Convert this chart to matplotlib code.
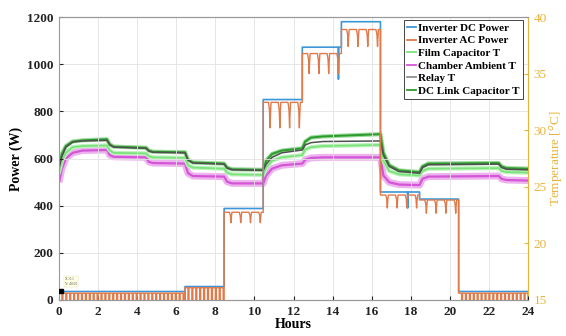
import numpy as np
import matplotlib
matplotlib.use("Agg")
import matplotlib.pyplot as plt
from matplotlib.lines import Line2D

# ---------------- data ----------------
# power step segments (hours)
seg_start = [0, 6.45, 8.45, 10.45, 12.45, 14.45, 16.45, 18.45, 20.45]
seg_end = [6.45, 8.45, 10.45, 12.45, 14.45, 16.45, 18.45, 20.45, 24]
dc_level = [36, 57, 388, 850, 1072, 1180, 458, 428, 36]
ac_level = [29, 52, 372, 838, 1045, 1147, 445, 424, 29]
ac_dip = [0, 0, 328, 730, 960, 1075, 390, 368, 0]
dip_offsets = [0.35, 0.85, 1.35, 1.85]   # dip times within high-power segments
low_dip_period = 0.2                      # switching ripple at low power
dc_spike_t = [14.3, 17.85]
dc_spike_v = [936, 390]

# temperature knots (hours) and values (deg C)
t_knots = [0, 0.15, 0.35, 0.7, 1.2, 2.45, 2.6, 2.8, 4.45, 4.6, 4.8, 6.45, 6.6, 6.85,
           8.45, 8.6, 8.85, 10.45, 10.6, 10.9, 11.4, 12.45, 12.6, 12.9, 13.5, 16.45,
           16.6, 16.9, 17.4, 18.45, 18.6, 18.9, 22.5, 22.65, 22.9, 24]
dclink_T = [26.9, 27.9, 28.6, 29.0, 29.1, 29.2, 28.75, 28.55, 28.45, 28.2, 28.1, 28.05,
            27.4, 27.15, 27.05, 26.7, 26.55, 26.5, 27.3, 27.9, 28.2, 28.4, 29.0, 29.35,
            29.45, 29.65, 28.0, 26.9, 26.45, 26.3, 26.8, 27.05, 27.1, 26.8, 26.65, 26.6]
relay_T = [26.6, 27.7, 28.5, 28.95, 29.05, 29.1, 28.7, 28.5, 28.4, 28.15, 28.05, 28.0,
           27.35, 27.1, 27.0, 26.65, 26.5, 26.45, 27.0, 27.6, 28.0, 28.25, 28.7, 28.9,
           29.0, 29.05, 27.8, 26.8, 26.35, 26.2, 26.7, 26.95, 27.0, 26.7, 26.55, 26.5]
film_T = [26.3, 27.3, 28.0, 28.5, 28.6, 28.65, 28.2, 28.0, 27.95, 27.7, 27.6, 27.55,
          26.9, 26.7, 26.6, 26.25, 26.1, 26.05, 26.7, 27.3, 27.6, 27.8, 28.3, 28.5,
          28.6, 28.7, 27.3, 26.4, 26.1, 26.0, 26.4, 26.6, 26.65, 26.4, 26.3, 26.25]
ambient_T = [25.4, 26.6, 27.5, 28.0, 28.2, 28.25, 27.8, 27.65, 27.6, 27.2, 27.1, 27.05,
             26.2, 25.95, 25.9, 25.45, 25.3, 25.3, 26.0, 26.6, 26.9, 27.05, 27.4, 27.55,
             27.6, 27.6, 26.0, 25.4, 25.2, 25.15, 25.7, 25.9, 25.95, 25.7, 25.6, 25.55]

x_ticks = list(range(0, 25, 2))
y_ticks = [0, 200, 400, 600, 800, 1000, 1200]
t_ticks = [15, 20, 25, 30, 35, 40]

# ---------------- build power traces ----------------
dc_t, dc_v = [], []
for s, e, lv in zip(seg_start, seg_end, dc_level):
    dc_t += [s, e]
    dc_v += [lv, lv]
for ts, vs in zip(dc_spike_t, dc_spike_v):
    i = int(np.searchsorted(dc_t, ts))
    lv = dc_v[i - 1]
    dc_t[i:i] = [ts - 0.02, ts, ts + 0.02]
    dc_v[i:i] = [lv, vs, lv]

ac_t, ac_v = [], []
for s, e, lv, dp in zip(seg_start, seg_end, ac_level, ac_dip):
    if dp == 0:
        t0 = s
        while t0 < e - 1e-9:
            t1 = min(t0 + low_dip_period - 0.05, e)
            ac_t += [t0, t1, t1, min(t0 + low_dip_period, e)]
            ac_v += [lv, lv, 0, 0]
            t0 += low_dip_period
    else:
        ac_t.append(s); ac_v.append(lv)
        for off in dip_offsets:
            td = s + off
            d = lv - dp
            ac_t += [td - 0.08, td - 0.03, td, td + 0.02, td + 0.05]
            ac_v += [lv, lv - 0.3 * d, dp, lv - 0.5 * d, lv]
        ac_t.append(e); ac_v.append(lv)

# ---------------- figure ----------------
plt.rcParams['font.family'] = ['Liberation Serif', 'DejaVu Serif']
fig = plt.figure(figsize=(5.66, 3.36), dpi=100)
ax = fig.add_axes([59 / 566, 36 / 336, 469 / 566, 283 / 336])
ax2 = ax.twinx()

gold = '#E9B43C'
c_dc = '#3D96D8'
c_ac = '#E07A4A'
c_film = '#7CE37C'
c_amb = '#D455D6'
c_relay = '#505050'
c_link = '#2E9A2E'

# temperatures on right axis (drawn with noise-like halos)
ax2.plot(t_knots, ambient_T, color='#EDB3EE', lw=5, solid_capstyle='butt', zorder=1)
ax2.plot(t_knots, ambient_T, color=c_amb, lw=1.6, zorder=2)
ax2.plot(t_knots, film_T, color='#BDF2BD', lw=3, zorder=2)
ax2.plot(t_knots, film_T, color=c_film, lw=1.3, zorder=3)
ax2.plot(t_knots, dclink_T, color='#98D898', lw=3.0, zorder=3)
ax2.plot(t_knots, dclink_T, color=c_link, lw=1.4, zorder=4)
ax2.plot(t_knots, relay_T, color=c_relay, lw=1.1, zorder=5)

ax2.set_ylim(15, 40)
ax2.set_yticks(t_ticks)
ax2.tick_params(axis='y', colors=gold, labelsize=9.5, length=3, direction='in', pad=4)
for lb in ax2.get_yticklabels():
    lb.set_color(gold)
ax2.set_ylabel('Temperature [$^o$C]', color=gold, fontsize=9.5, labelpad=1)
ax2.spines['right'].set_color(gold)
ax2.spines['left'].set_visible(False)
ax2.spines['top'].set_color('#999999')
ax2.spines['bottom'].set_color('#999999')

# power on left axis, drawn above
ax.set_zorder(ax2.get_zorder() + 1)
ax.patch.set_visible(False)
ax.plot(dc_t, dc_v, color=c_dc, lw=1.2, zorder=3)
ax.plot(ac_t, ac_v, color=c_ac, lw=1.0, zorder=4)

# datatip
ax.plot([0.12], [37], marker='s', ms=2.5, color='black', zorder=6, lw=0)
ax.text(0.3, 60, 'X: 0.1\nY: 40.02', fontsize=2.6, color='#555555', va='bottom',
        bbox=dict(boxstyle='square,pad=0.3', fc='#FFFFE4', ec='#E0E0C0', lw=0.3), zorder=6)

ax.set_xlim(0, 24)
ax.set_ylim(0, 1200)
ax.set_xticks(x_ticks)
ax.set_yticks(y_ticks)
ax.grid(True, color='#E2E2E2', lw=0.6)
ax.set_axisbelow(True)
ax.tick_params(labelsize=9.5, length=3, direction='in', colors='#222222', pad=4)
for lb in ax.get_xticklabels() + ax.get_yticklabels():
    lb.set_fontweight('bold')
ax.set_xlabel('Hours', fontsize=10, fontweight='bold', labelpad=0)
ax.set_ylabel('Power (W)', fontsize=10, fontweight='bold', labelpad=3)
for sp in ['left', 'top', 'bottom']:
    ax.spines[sp].set_color('#999999')
ax.spines['right'].set_visible(False)

# legend
handles = [Line2D([], [], color=c_dc, lw=1.3),
           Line2D([], [], color=c_ac, lw=1.3),
           Line2D([], [], color=c_film, lw=1.3),
           Line2D([], [], color=c_amb, lw=1.3),
           Line2D([], [], color='#909090', lw=1.3),
           Line2D([], [], color=c_link, lw=1.3)]
labels = ['Inverter DC Power', 'Inverter AC Power', 'Film Capacitor T',
          'Chamber Ambient T', 'Relay T', 'DC Link Capacitor T']
leg = ax.legend(handles, labels, loc='upper right', bbox_to_anchor=(0.99, 0.99),
                borderaxespad=0, prop={'weight': 'bold', 'size': 8},
                handlelength=0.8, handletextpad=0.2, labelspacing=0.25,
                borderpad=0.3, fancybox=False, framealpha=1)
leg.get_frame().set_edgecolor('#444444')
leg.get_frame().set_linewidth(0.7)

fig.savefig('out.png', dpi=100)
